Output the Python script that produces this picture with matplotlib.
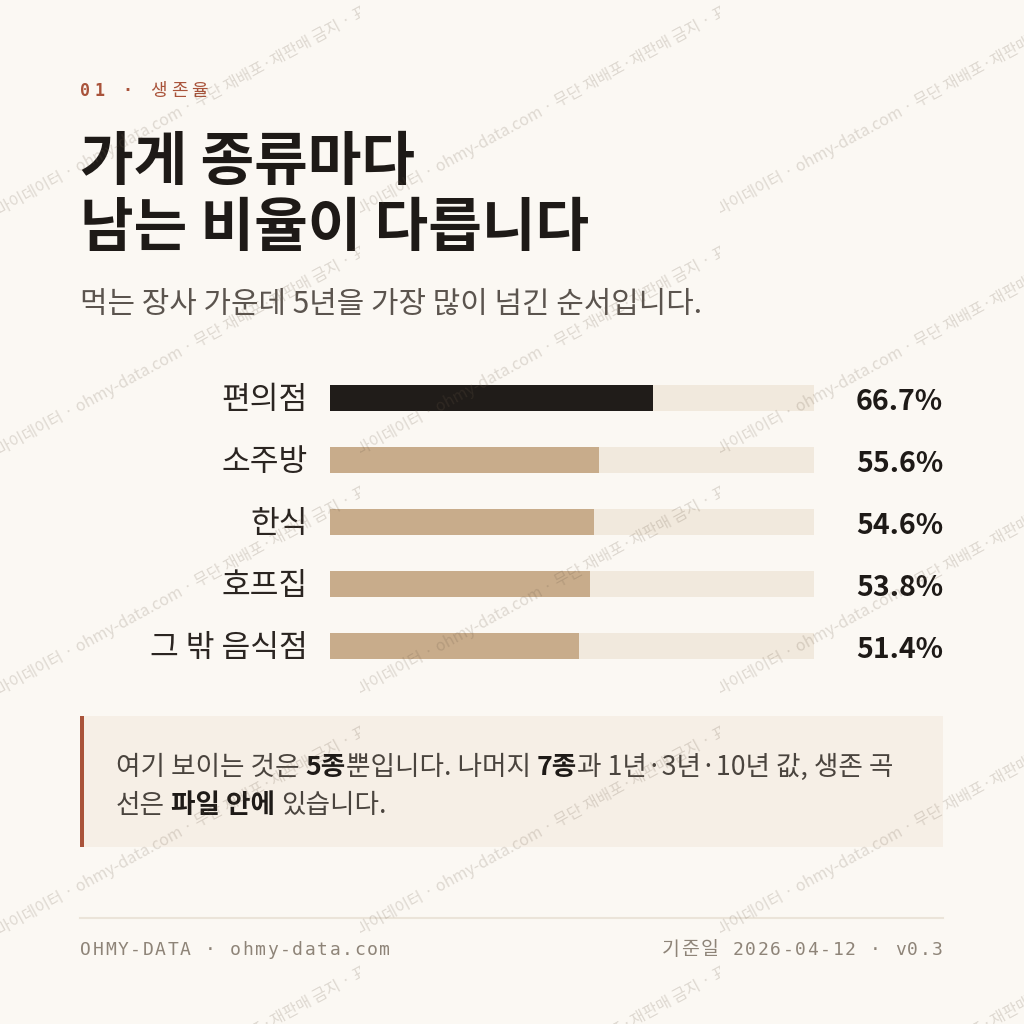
import matplotlib
matplotlib.use("Agg")
import matplotlib.pyplot as plt
from matplotlib.patches import Rectangle
from matplotlib.transforms import Bbox, TransformedBbox, blended_transform_factory

# data
categories = ["편의점", "소주방", "한식", "호프집", "그 밖 음식점"]
survival_5y = [66.7, 55.6, 54.6, 53.8, 51.4]
value_labels = ["66.7%", "55.6%", "54.6%", "53.8%", "51.4%"]
highlight = "편의점"

kicker = "01 · "
kicker_kr = "생존율"
title_lines = ["가게 종류마다", "남는 비율이 다릅니다"]
subtitle = "먹는 장사 가운데 5년을 가장 많이 넘긴 순서입니다."
note_lines = [
    [("여기 보이는 것은 ", False), ("5종", True), ("뿐입니다. 나머지 ", False),
     ("7종", True), ("과 1년·3년·10년 값, 생존 곡", False)],
    [("선은 ", False), ("파일 안에", True), (" 있습니다.", False)],
]
footer_left = "OHMY-DATA · ohmy-data.com"
footer_right_kr = "기준일"
footer_right = " 2026-04-12 · v0.3"
watermark = "마이데이터 · ohmy-data.com · 무단 재배포·재판매 금지 · 표본 공개"

# colours
BG = "#fbf8f3"
RUST = "#a9533a"
INK = "#1e1a17"
GREY = "#5b544e"
TRACK = "#f1e9dd"
DARK = "#201c19"
TAN = "#c8ac8b"
NOTE_BG = "#f6efe6"
FOOT = "#8e8478"

kr = ["Noto Sans CJK KR", "DejaVu Sans"]
mono = ["DejaVu Sans Mono", "Noto Sans CJK KR"]

fig = plt.figure(figsize=(10.24, 10.24), dpi=100)
fig.patch.set_facecolor(BG)

# page axes in pixels, y going down
page = fig.add_axes([0, 0, 1, 1])
page.set_xlim(0, 1024)
page.set_ylim(1024, 0)
page.axis("off")

renderer = fig.canvas.get_renderer()


def text_width(s, **kw):
    t = page.text(0, 0, s, **kw)
    w = t.get_window_extent(renderer).width
    t.remove()
    return w


def space_width(**kw):
    return text_width("a a", **kw) - text_width("aa", **kw)


def draw_runs(x, y, runs, size):
    for s, bold in runs:
        kw = dict(fontsize=size, family=kr,
                  fontweight="bold" if bold else "normal",
                  color=INK if bold else "#4a443e")
        sw = space_width(**kw)
        lead = len(s) - len(s.lstrip(" "))
        trail = len(s) - len(s.rstrip(" "))
        x += lead * sw
        t = page.text(x, y, s.strip(" "), ha="left", va="baseline", **kw)
        x += t.get_window_extent(renderer).width + trail * sw
    return x


def spaced_width(s, gap, **kw):
    sw = space_width(**kw)
    widths = [sw if c == " " else text_width(c, **kw) for c in s]
    return widths, sum(widths) + gap * len(s)


def draw_spaced(x, y, s, gap, **kw):
    widths, _ = spaced_width(s, gap, **kw)
    for c, w in zip(s, widths):
        if c != " ":
            page.text(x, y, c, ha="left", va="baseline", **kw)
        x += w + gap
    return x


# kicker
xk = draw_spaced(80, 96, kicker, 4, family=mono, fontsize=12,
                 fontweight="bold", color=RUST)
draw_spaced(xk, 96, kicker_kr, 4, family=kr, fontsize=13, color=RUST)

# title and subtitle
page.text(80, 180, title_lines[0], ha="left", va="baseline", fontsize=42,
          fontweight="bold", family=kr, color=INK)
page.text(80, 246, title_lines[1], ha="left", va="baseline", fontsize=42,
          fontweight="bold", family=kr, color=INK)
page.text(80, 313, subtitle, ha="left", va="baseline", fontsize=21.5,
          family=kr, color=GREY)

# bars
ax = fig.add_axes([330 / 1024, 1 - 677 / 1024, 484 / 1024, 310 / 1024])
ax.set_facecolor("none")
n = len(categories)
ypos = list(range(n))
ax.barh(ypos, [100] * n, height=0.42, color=TRACK)
ax.barh(ypos, survival_5y, height=0.42,
        color=[DARK if c == highlight else TAN for c in categories])
ax.set_xlim(0, 100)
ax.set_ylim(n - 0.5, -0.5)
ax.axis("off")

trans = blended_transform_factory(ax.transAxes, ax.transData)
for i, (c, v) in enumerate(zip(categories, value_labels)):
    ax.text(-22 / 484, i + 0.04, c, transform=trans, ha="right", va="center",
            fontsize=22.5, family=kr, color="#2b2521")
    ax.text(613 / 484, i + 0.06, v, transform=trans, ha="right", va="center",
            fontsize=20.5, fontweight="bold", family=kr, color=INK)

# note box
page.add_patch(Rectangle((80, 716), 863, 131, facecolor=NOTE_BG, edgecolor="none"))
page.add_patch(Rectangle((80, 716), 4, 131, facecolor=RUST, edgecolor="none"))
draw_runs(116, 775, note_lines[0], 19.2)
draw_runs(116, 813, note_lines[1], 19.2)

# footer
page.plot([80, 943], [918, 918], color="#ebe4d9", lw=1.5)
draw_spaced(80, 955, footer_left, 1.6, family=mono, fontsize=13, color=FOOT)
kw_kr = dict(family=kr, fontsize=14, color=FOOT)
kw_mono = dict(family=mono, fontsize=13, color=FOOT)
w_kr = spaced_width(footer_right_kr, 1.6, **kw_kr)[1]
w_mono = spaced_width(footer_right, 1.6, **kw_mono)[1] - 1.6
xf = draw_spaced(943 - w_kr - w_mono, 955, footer_right_kr, 1.6, **kw_kr)
draw_spaced(xf, 955, footer_right, 1.6, **kw_mono)

# watermark tiles
wm = fig.add_axes([0, 0, 1, 1], zorder=5)
wm.set_facecolor("none")
wm.set_xlim(0, 1024)
wm.set_ylim(1024, 0)
wm.axis("off")
for row in range(5):
    y0 = 215 + 240 * row
    for col in range(3):
        x0 = 360 * col
        t = wm.text(x0, y0, watermark, rotation=28.6, rotation_mode="anchor",
                    ha="left", va="baseline", fontsize=11.5, family=kr,
                    color="#6b5a48", alpha=0.2)
        box = Bbox.from_extents(x0, y0 + 20, x0 + 360, y0 - 220)
        t.set_clip_box(TransformedBbox(box, wm.transData))
        t.set_clip_on(True)

fig.savefig("out.png", dpi=100, facecolor=BG)
